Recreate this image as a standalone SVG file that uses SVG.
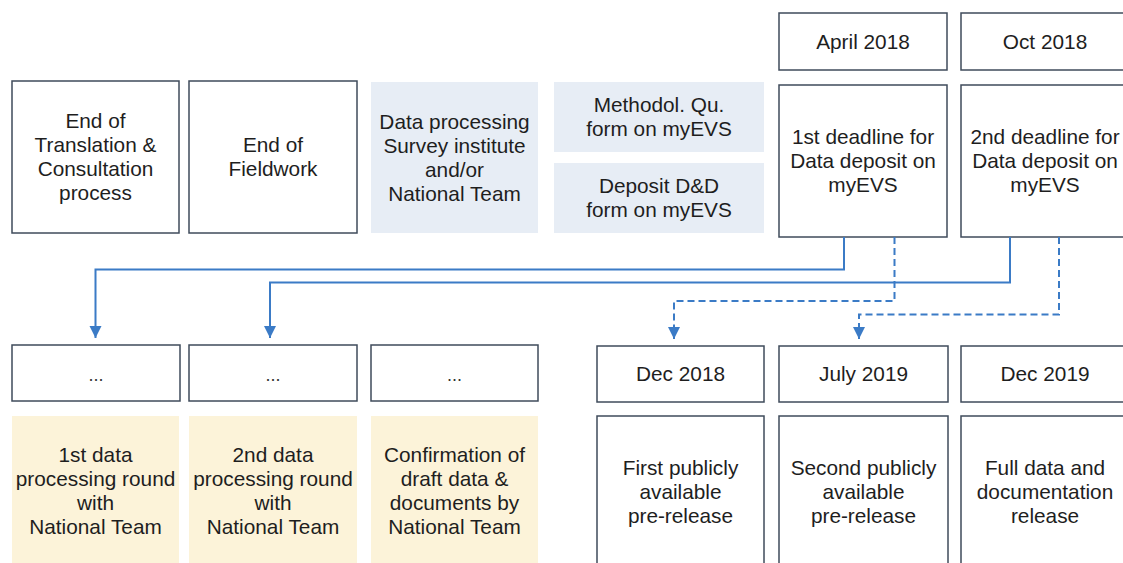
<svg xmlns="http://www.w3.org/2000/svg" width="1123" height="563" viewBox="0 0 1123 563">
<style>
.box{fill:#ffffff;stroke:#3f4b5b;stroke-width:1.5}
.blue{fill:#e7edf5;stroke:none}
.yel{fill:#fcf3d9;stroke:none}
.t{font-family:"Liberation Sans",Arial,sans-serif;font-size:20.8px;fill:#1e1e1e;text-anchor:middle}
.d{font-family:"Liberation Sans",Arial,sans-serif;font-size:18px;fill:#333;text-anchor:middle}
.c{fill:none;stroke:#3b7bc6;stroke-width:2}
.dash{stroke-dasharray:7 4}
</style>
<defs>
<marker id="ah" markerUnits="userSpaceOnUse" markerWidth="13" markerHeight="13" refX="12" refY="6" orient="auto">
<path d="M0,0 L12,6 L0,12 z" fill="#3b7bc6"/>
</marker>
</defs>

<g id="n-translation"><rect class="box" x="12" y="81" width="167" height="152"/>
<text class="t" x="95.5"><tspan x="95.5" y="128">End of</tspan><tspan x="95.5" y="152">Translation &amp;</tspan><tspan x="95.5" y="176">Consultation</tspan><tspan x="95.5" y="200">process</tspan></text></g>

<g id="n-fieldwork"><rect class="box" x="189" y="81" width="168" height="152"/>
<text class="t"><tspan x="273" y="152">End of</tspan><tspan x="273" y="176">Fieldwork</tspan></text></g>

<g id="n-dataproc"><rect class="blue" x="371" y="82" width="167" height="151"/>
<text class="t"><tspan x="454.5" y="128.5">Data processing</tspan><tspan x="454.5" y="152.5">Survey institute</tspan><tspan x="454.5" y="176.5">and/or</tspan><tspan x="454.5" y="200.5">National Team</tspan></text></g>

<g id="n-methodol"><rect class="blue" x="554" y="82" width="210" height="70"/>
<text class="t"><tspan x="659" y="112">Methodol. Qu.</tspan><tspan x="659" y="136">form on myEVS</tspan></text></g>

<g id="n-deposit"><rect class="blue" x="554" y="163" width="210" height="70"/>
<text class="t"><tspan x="659" y="193">Deposit D&amp;D</tspan><tspan x="659" y="217">form on myEVS</tspan></text></g>

<g id="n-april"><rect class="box" x="779" y="13" width="168" height="57"/>
<text class="t" x="863" y="48.5">April 2018</text></g>

<g id="n-oct"><rect class="box" x="961" y="13" width="168" height="57"/>
<text class="t" x="1045" y="48.5">Oct 2018</text></g>

<g id="n-deadline1"><rect class="box" x="779" y="85" width="168" height="152"/>
<text class="t"><tspan x="863" y="144">1st deadline for</tspan><tspan x="863" y="168">Data deposit on</tspan><tspan x="863" y="192">myEVS</tspan></text></g>

<g id="n-deadline2"><rect class="box" x="961" y="85" width="168" height="152"/>
<text class="t"><tspan x="1045" y="144">2nd deadline for</tspan><tspan x="1045" y="168">Data deposit on</tspan><tspan x="1045" y="192">myEVS</tspan></text></g>

<g id="n-dots1"><rect class="box" x="12" y="345" width="168" height="56"/>
<text class="d" x="96" y="381">...</text></g>
<g id="n-dots2"><rect class="box" x="189" y="345" width="168" height="56"/>
<text class="d" x="273" y="381">...</text></g>
<g id="n-dots3"><rect class="box" x="371" y="345" width="167" height="56"/>
<text class="d" x="454.5" y="381">...</text></g>

<g id="n-dec2018"><rect class="box" x="597" y="346" width="167" height="56"/>
<text class="t" x="680.5" y="381">Dec 2018</text></g>
<g id="n-jul2019"><rect class="box" x="779" y="346" width="169" height="56"/>
<text class="t" x="863.5" y="381">July 2019</text></g>
<g id="n-dec2019"><rect class="box" x="961" y="346" width="168" height="56"/>
<text class="t" x="1045" y="381">Dec 2019</text></g>

<g id="n-round1"><rect class="yel" x="12" y="416" width="167" height="151"/>
<text class="t"><tspan x="95.5" y="462">1st data</tspan><tspan x="95.5" y="486">processing round</tspan><tspan x="95.5" y="510">with</tspan><tspan x="95.5" y="534">National Team</tspan></text></g>
<g id="n-round2"><rect class="yel" x="189" y="416" width="168" height="151"/>
<text class="t"><tspan x="273" y="462">2nd data</tspan><tspan x="273" y="486">processing round</tspan><tspan x="273" y="510">with</tspan><tspan x="273" y="534">National Team</tspan></text></g>
<g id="n-confirm"><rect class="yel" x="371" y="416" width="167" height="151"/>
<text class="t"><tspan x="454.5" y="462">Confirmation of</tspan><tspan x="454.5" y="486">draft data &amp;</tspan><tspan x="454.5" y="510">documents by</tspan><tspan x="454.5" y="534">National Team</tspan></text></g>

<g id="n-pre1"><rect class="box" x="597" y="416" width="167" height="155"/>
<text class="t"><tspan x="680.5" y="475">First publicly</tspan><tspan x="680.5" y="499">available</tspan><tspan x="680.5" y="523">pre-release</tspan></text></g>
<g id="n-pre2"><rect class="box" x="779" y="416" width="169" height="155"/>
<text class="t"><tspan x="863.5" y="475">Second publicly</tspan><tspan x="863.5" y="499">available</tspan><tspan x="863.5" y="523">pre-release</tspan></text></g>
<g id="n-full"><rect class="box" x="961" y="416" width="168" height="155"/>
<text class="t"><tspan x="1045" y="475">Full data and</tspan><tspan x="1045" y="499">documentation</tspan><tspan x="1045" y="523">release</tspan></text></g>

<g id="connectors">
<path class="c" d="M844,237 V269.5 H95.5 V338" marker-end="url(#ah)"/>
<path class="c" d="M1010,237 V282.5 H270 V338" marker-end="url(#ah)"/>
<path class="c dash" d="M894.5,237 V301 H674 V339" marker-end="url(#ah)"/>
<path class="c dash" d="M1059,237 V314.5 H859 V339" marker-end="url(#ah)"/>
</g>
</svg>
